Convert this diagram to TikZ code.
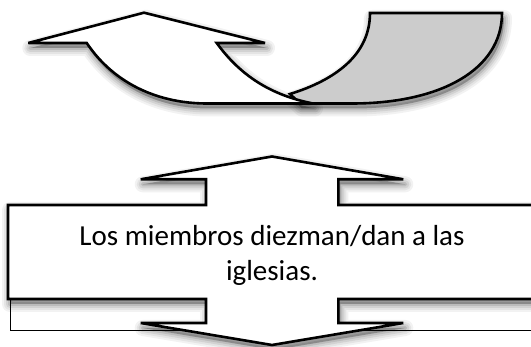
\documentclass[tikz,border=0pt]{standalone}
\usepackage{fontspec}
\setmainfont{Carlito}
\tikzset{
  shapeline/.style={draw=black, line width=2.6pt, line join=miter, miter limit=4},
  thinline/.style={draw=black, line width=0.9pt},
}
\def\uturnwhite{(144,12.7) -- (265,43) -- (216.7,43) .. controls (240,75) and (270,95) .. (313,103.5) -- (207,103.5) .. controls (160,103.5) and (115,85) .. (86.7,43) -- (28.3,43) -- cycle}
\def\uturngray{(290,94) .. controls (335,80) and (370,55) .. (370,13) -- (502,13) .. controls (502,70) and (440,103.5) .. (352,103.5) -- (300,103.5) -- cycle}
\def\boxpath{(8,205) -- (206,205) -- (206,179.3) -- (140.7,179.3) -- (272,156.5) -- (403.3,179.3) -- (338.3,179.3) -- (338.3,205) -- (545,205) -- (545,299) -- (338.3,299) -- (338.3,323) -- (403.3,323) -- (272,345) -- (140.7,323) -- (206,323) -- (206,299) -- (8,299) -- cycle}
\newcommand\softshadow[1]{%
  \foreach \w/\o in {16/0.05,12/0.06,8/0.08,4/0.10} {%
    \filldraw[black, opacity=\o, line width=\w pt, line join=round, shift={(2pt,-5pt)}] #1;
  }}
\begin{document}
\begin{tikzpicture}[x=1pt,y=-1pt]
  \useasboundingbox (0,0) rectangle (531,347);
  \clip (0,0) rectangle (531,347);
  % top U-turn arrow
  \softshadow{\uturngray}
  \softshadow{\uturnwhite}
  \filldraw[shapeline, fill=black!20] \uturngray;
  \filldraw[shapeline, fill=white] \uturnwhite;
  % thin frame behind the callout
  \draw[thinline, fill=white] (10,240) rectangle (545,330);
  % up-down arrow box
  \softshadow{\boxpath}
  \filldraw[shapeline, fill=white] \boxpath;
  \node[font=\fontsize{29}{35}\selectfont, align=center, inner sep=0pt] (t) at (272,255) {Los miembros diezman/dan a las\\iglesias.};
\end{tikzpicture}
\end{document}
